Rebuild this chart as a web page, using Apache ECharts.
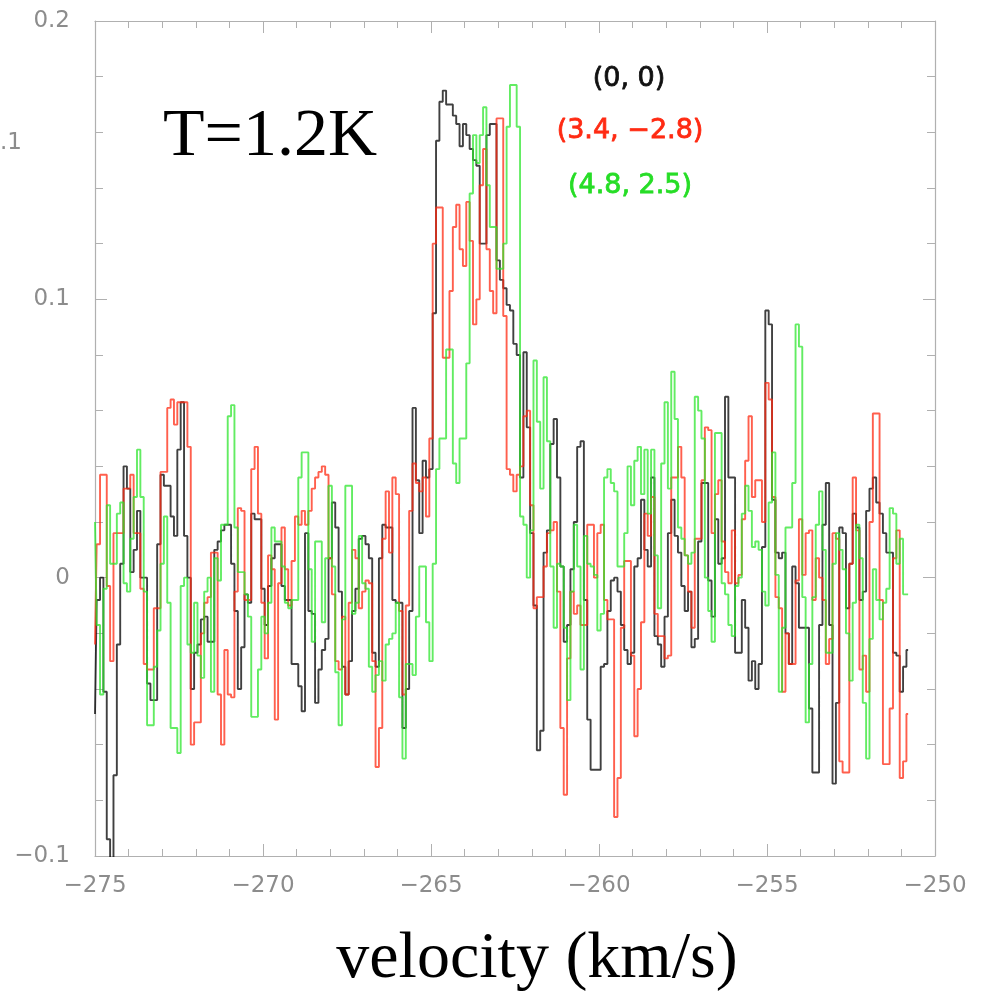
<!DOCTYPE html>
<html>
<head>
<meta charset="utf-8">
<script src="https://cdn.jsdelivr.net/npm/echarts@6/dist/echarts.min.js"></script>
<style>
html,body{margin:0;padding:0;background:#fff;}
#chart{width:984px;height:991px;}
</style>
</head>
<body>
<div id="chart"></div>
<script>
// Spectral channel grid (km/s)
const velStart = -275.0;
const velStep = 0.1;

// Spectra (K), one value per channel
const black = [
-0.049,-0.008,0.000,-0.041,-0.094,-0.115,-0.071,-0.024,0.005,0.040,
0.032,0.002,0.010,0.024,0.000,0.000,-0.038,-0.044,-0.044,0.012,
0.037,0.033,0.033,0.022,0.015,0.046,0.063,0.015,0.000,-0.040,
-0.027,-0.024,-0.015,-0.014,-0.023,-0.023,0.010,0.013,0.017,0.019,
0.019,0.005,-0.012,-0.040,-0.025,-0.006,-0.009,0.023,0.021,0.021,
-0.004,-0.017,-0.003,0.007,0.012,0.012,-0.003,-0.008,-0.008,-0.031,
-0.031,-0.039,-0.048,0.016,-0.012,-0.013,-0.045,-0.033,-0.026,-0.022,
0.007,0.027,0.018,-0.005,-0.032,-0.042,-0.030,-0.012,-0.004,0.014,
0.015,0.012,0.007,-0.027,-0.032,0.007,0.019,0.018,0.018,-0.008,
-0.009,-0.009,-0.054,-0.040,-0.012,0.061,0.035,0.016,0.042,0.036,
0.039,0.095,0.157,0.171,0.175,0.170,0.170,0.166,0.163,0.155,
0.163,0.159,0.154,0.150,0.148,0.120,0.120,0.159,0.163,0.163,
0.114,0.107,0.104,0.098,0.096,0.084,0.080,0.036,0.081,0.054,
0.016,-0.010,-0.062,-0.055,0.009,0.017,0.048,0.057,0.036,0.004,
-0.023,-0.017,0.003,0.020,0.047,0.049,-0.008,-0.051,-0.069,-0.069,
-0.069,-0.032,-0.031,-0.012,-0.001,0.000,-0.005,-0.017,-0.026,-0.031,
-0.027,0.004,0.007,0.028,0.010,0.004,0.036,-0.021,-0.024,-0.032,
-0.014,0.016,0.028,0.015,0.009,-0.003,-0.012,-0.005,-0.025,-0.022,
0.013,0.034,0.034,-0.001,-0.014,0.021,0.005,0.007,0.065,0.036,
0.036,-0.027,-0.027,-0.008,-0.018,-0.037,-0.030,-0.040,-0.031,0.011,
0.096,0.091,0.028,0.009,0.007,0.009,-0.020,-0.031,0.004,-0.002,
-0.018,-0.018,-0.018,-0.047,-0.070,-0.070,-0.017,0.019,0.034,-0.017,
-0.074,-0.045,0.018,0.016,-0.011,0.005,0.023,0.018,-0.008,-0.005,
0.024,0.032,0.036,0.027,0.023,0.016,0.009,0.009,-0.027,-0.028,
-0.041,-0.032,-0.026
];

const red = [
-0.024,0.012,0.037,0.037,-0.003,-0.030,0.016,0.016,0.016,0.032,
0.032,0.037,0.016,0.016,-0.004,-0.031,-0.033,-0.033,-0.011,-0.011,
0.038,0.038,0.061,0.064,0.055,0.063,0.063,0.063,0.047,-0.060,
-0.052,-0.052,-0.020,-0.009,-0.007,0.009,0.009,-0.042,-0.060,-0.026,
-0.042,-0.043,-0.005,0.025,0.024,-0.008,-0.008,0.039,0.047,0.023,
-0.009,-0.029,0.008,0.003,-0.051,-0.002,0.018,0.003,-0.010,0.006,
0.022,0.019,0.024,0.019,0.024,0.032,0.036,0.038,0.040,0.037,
0.007,-0.006,-0.030,-0.033,-0.014,-0.042,-0.009,0.010,0.007,-0.011,
-0.005,-0.001,-0.002,-0.030,-0.068,-0.054,0.014,0.031,0.009,0.036,
0.030,-0.012,-0.042,-0.010,0.024,0.041,0.034,0.031,0.036,0.022,
0.050,0.120,0.133,0.133,0.079,0.079,0.103,0.126,0.134,0.118,
0.112,0.135,0.121,0.091,0.100,0.141,0.154,0.118,0.103,0.095,
0.165,0.165,0.094,0.039,0.037,0.031,0.037,0.040,0.058,0.060,
0.026,-0.011,-0.007,-0.007,0.004,0.016,0.017,0.020,-0.005,-0.054,
-0.078,-0.029,-0.005,-0.013,-0.010,-0.017,-0.017,0.019,0.019,0.000,
0.016,0.019,-0.008,-0.015,-0.015,-0.086,-0.072,-0.018,0.006,0.006,
-0.028,-0.057,-0.040,-0.016,0.023,0.015,0.029,-0.013,-0.021,-0.021,
-0.029,-0.028,0.036,0.036,0.047,0.036,0.008,-0.005,-0.018,0.014,
0.014,0.035,0.054,0.053,0.016,0.030,0.035,0.013,0.002,-0.002,
0.017,-0.002,0.001,0.021,0.042,0.058,0.029,0.035,0.035,0.020,
0.070,0.064,0.029,-0.007,-0.011,-0.041,-0.020,-0.031,-0.031,-0.001,
0.021,0.001,0.016,0.017,-0.008,0.007,0.000,-0.008,-0.031,-0.022,
0.016,0.014,-0.066,-0.070,-0.070,0.005,0.036,0.017,-0.033,-0.028,
-0.041,0.020,0.059,0.059,-0.008,-0.067,-0.067,-0.047,0.007,0.017,
-0.072,-0.066,-0.049
];

const green = [
0.020,-0.017,-0.042,-0.004,0.026,0.005,0.005,0.023,0.027,-0.002,
-0.005,0.014,0.029,0.046,0.029,-0.005,-0.053,-0.053,-0.032,-0.019,
0.005,0.022,-0.009,-0.054,-0.054,-0.063,-0.003,0.000,-0.024,-0.027,
-0.009,-0.028,-0.036,-0.005,0.000,-0.041,0.007,-0.001,0.019,0.019,
0.058,0.062,0.018,0.002,0.002,-0.006,-0.014,-0.050,-0.050,-0.033,
-0.014,-0.020,-0.009,0.018,0.013,0.013,0.004,-0.009,-0.011,-0.008,
-0.008,0.036,0.045,0.045,0.003,-0.023,0.013,0.013,-0.016,0.007,
0.033,0.004,-0.034,-0.053,-0.015,0.033,0.033,-0.013,-0.009,0.015,
-0.002,-0.004,-0.032,-0.041,-0.035,-0.030,-0.037,-0.024,-0.022,-0.020,
-0.009,-0.043,-0.065,-0.031,-0.031,-0.035,-0.014,0.004,0.004,-0.016,
-0.030,0.005,0.039,0.050,0.050,0.082,0.082,0.041,0.034,0.050,
0.050,0.077,0.138,0.159,0.149,0.159,0.169,0.141,0.126,0.126,
0.111,0.111,0.120,0.162,0.177,0.177,0.162,0.022,0.019,0.000,
0.017,0.078,0.056,0.032,0.072,0.049,0.004,-0.018,0.005,0.004,
-0.018,-0.044,-0.005,0.019,0.004,-0.033,0.015,0.005,0.004,0.001,
-0.019,-0.013,0.036,0.039,0.034,0.031,0.004,0.004,0.016,0.040,
0.026,0.042,0.047,0.030,0.046,0.023,0.046,0.008,-0.011,0.041,
0.063,0.032,0.074,0.057,0.018,0.014,0.008,0.005,0.009,0.065,
0.060,0.050,0.000,-0.012,-0.023,0.052,0.052,-0.002,-0.006,-0.017,
-0.021,-0.003,0.000,0.023,0.033,0.024,0.011,0.013,0.010,-0.005,
-0.010,0.027,0.045,0.001,-0.041,-0.018,0.018,0.018,0.034,0.091,
0.083,-0.007,-0.052,-0.031,-0.007,0.019,0.031,0.010,-0.027,-0.027,
0.005,0.016,0.010,0.003,-0.020,-0.037,-0.009,0.019,0.007,-0.045,
-0.065,-0.022,0.003,-0.008,-0.015,-0.009,-0.004,0.025,0.023,0.005,
0.014,-0.006,-0.006
];

// Axis ticks and texts
const xTicks = [-275, -270, -265, -260, -255, -250];
const yTicks = [-0.1, 0, 0.1, 0.2];
const seriesLabels = ['(0, 0)', '(3.4, \u22122.8)', '(4.8, 2.5)'];
const tempLabel = 'T=1.2K';
const xAxisTitle = 'velocity (km/s)';
const strayLabel = '.1';

function toPairs(vals) {
  return vals.map((y, i) => [Math.round((velStart + i * velStep) * 100) / 100, y]);
}
function fmtNum(v) {
  const r = Math.round(v * 10) / 10;
  const s = String(Math.abs(r));
  return (r < 0 ? '\u2212' : '') + s;
}

const frameColor = '#b0b0b0';
const labelColor = '#8c8c8c';

function makeX(pos, showLabel) {
  return {
    type: 'value', position: pos,
    min: xTicks[0], max: xTicks[xTicks.length - 1], interval: 5,
    axisLine: { show: true, onZero: false, lineStyle: { color: frameColor, width: 1.2 } },
    axisTick: { show: true, inside: true, length: 12, lineStyle: { color: frameColor, width: 1 } },
    minorTick: { show: true, splitNumber: 5, length: 7, lineStyle: { color: frameColor, width: 1 } },
    splitLine: { show: false },
    axisLabel: { show: showLabel, margin: 19, color: labelColor, fontSize: 23, fontFamily: 'DejaVu Sans', fontWeight: 'normal', formatter: fmtNum }
  };
}
function makeY(pos, showLabel) {
  return {
    type: 'value', position: pos,
    min: yTicks[0], max: yTicks[yTicks.length - 1], interval: 0.1,
    axisLine: { show: true, onZero: false, lineStyle: { color: frameColor, width: 1.2 } },
    axisTick: { show: true, inside: true, length: 12, lineStyle: { color: frameColor, width: 1 } },
    minorTick: { show: true, splitNumber: 5, length: 8, lineStyle: { color: frameColor, width: 1 } },
    splitLine: { show: false },
    axisLabel: { show: showLabel, margin: 25, color: labelColor, fontSize: 23, fontFamily: 'DejaVu Sans', formatter: fmtNum }
  };
}

const chart = echarts.init(document.getElementById('chart'), null, { renderer: 'canvas' });
const lineW = 1.9;
chart.setOption({
  animation: false,
  backgroundColor: '#ffffff',
  grid: { left: 95, right: 49, top: 21, bottom: 135, containLabel: false },
  xAxis: [makeX('bottom', true), makeX('top', false)],
  yAxis: [makeY('left', true), makeY('right', false)],
  series: [
    { name: seriesLabels[0], type: 'line', step: 'middle', symbol: 'none', clip: true,
      data: toPairs(black), lineStyle: { color: '#000000', width: lineW, opacity: 0.75 } },
    { name: seriesLabels[1], type: 'line', step: 'middle', symbol: 'none', clip: true,
      data: toPairs(red), lineStyle: { color: '#ff2a12', width: lineW, opacity: 0.75 } },
    { name: seriesLabels[2], type: 'line', step: 'middle', symbol: 'none', clip: true,
      data: toPairs(green), lineStyle: { color: '#2ee62e', width: lineW, opacity: 0.75 } }
  ],
  graphic: [
    { type: 'text', style: { text: tempLabel, x: 270, y: 137, align: 'center', verticalAlign: 'middle',
      font: '68px "Liberation Serif"', fill: '#000' } },
    { type: 'text', style: { text: seriesLabels[0], x: 629, y: 79, align: 'center', verticalAlign: 'middle',
      font: '27px "DejaVu Sans"', fill: '#111', stroke: '#111', lineWidth: 0.8 } },
    { type: 'text', style: { text: seriesLabels[1], x: 630, y: 131, align: 'center', verticalAlign: 'middle',
      font: '27px "DejaVu Sans"', fill: '#ff2a12', stroke: '#ff2a12', lineWidth: 0.8 } },
    { type: 'text', style: { text: seriesLabels[2], x: 630, y: 186, align: 'center', verticalAlign: 'middle',
      font: '27px "DejaVu Sans"', fill: '#26dd26', stroke: '#26dd26', lineWidth: 0.8 } },
    { type: 'text', style: { text: xAxisTitle, x: 537, y: 960, align: 'center', verticalAlign: 'middle',
      font: '66px "Liberation Serif"', fill: '#000' } },
    { type: 'text', style: { text: strayLabel, x: 0, y: 143, align: 'left', verticalAlign: 'middle',
      font: '23px "DejaVu Sans"', fill: labelColor } }
  ]
});
</script>
</body>
</html>
